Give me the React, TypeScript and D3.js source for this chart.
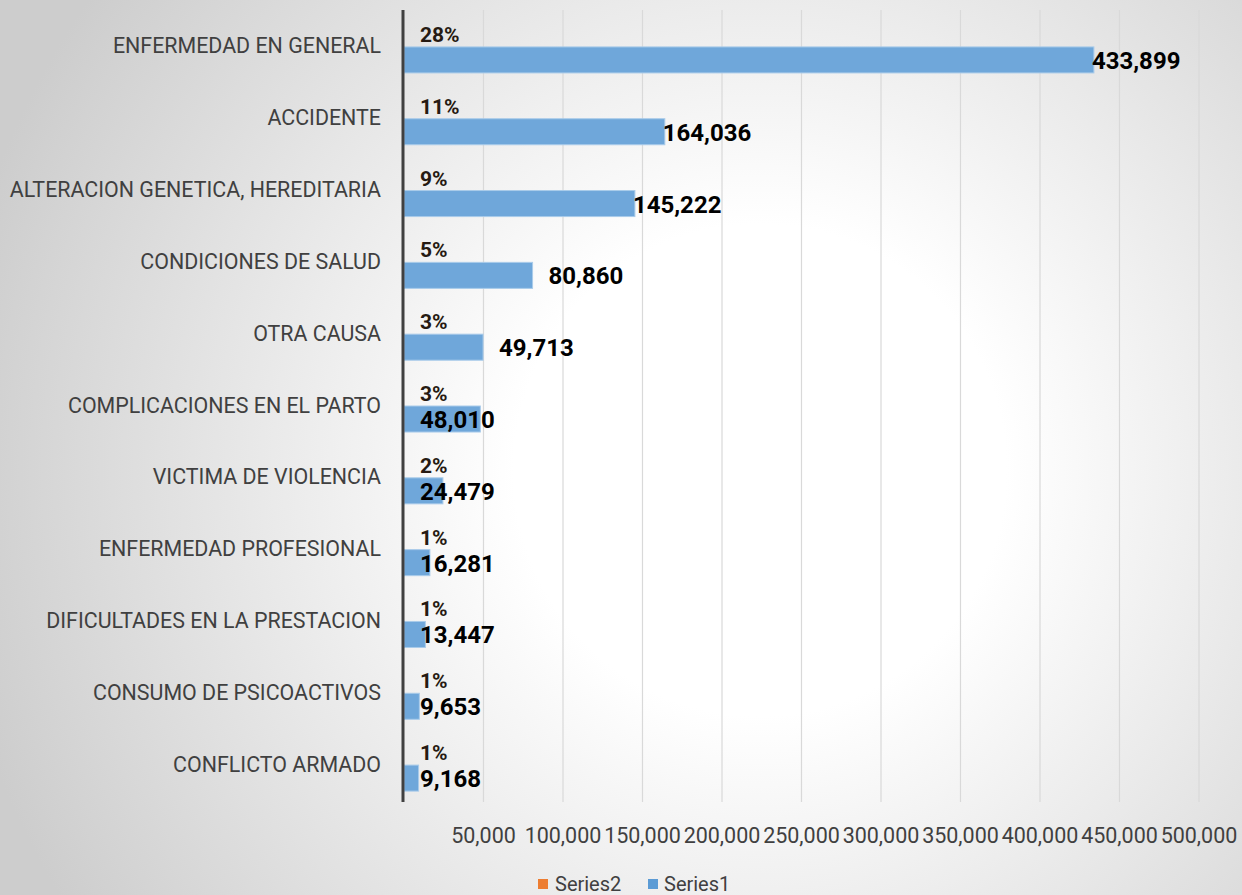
import React from 'react';
import * as d3 from 'd3';

const categories = [
  'ENFERMEDAD EN GENERAL',
  'ACCIDENTE',
  'ALTERACION GENETICA, HEREDITARIA',
  'CONDICIONES DE SALUD',
  'OTRA CAUSA',
  'COMPLICACIONES EN EL PARTO',
  'VICTIMA DE VIOLENCIA',
  'ENFERMEDAD PROFESIONAL',
  'DIFICULTADES EN LA PRESTACION',
  'CONSUMO DE PSICOACTIVOS',
  'CONFLICTO ARMADO',
];
const series1 = [433899, 164036, 145222, 80860, 49713, 48010, 24479, 16281, 13447, 9653, 9168];
const series2 = [0, 0, 0, 0, 0, 0, 0, 0, 0, 0, 0];
const series2Labels = ['28%', '11%', '9%', '5%', '3%', '3%', '2%', '1%', '1%', '1%', '1%'];
const xTicks = [50000, 100000, 150000, 200000, 250000, 300000, 350000, 400000, 450000, 500000];
const seriesNames = ['Series2', 'Series1'];

// where each value label sits (manually moved labels in the original)
const labelPlacement = ['end', 'end', 'end', 'after', 'after', 'base', 'base', 'base', 'base', 'base', 'base'];

const W = 1242;
const H = 895;
const FONT = 'Roboto, "Open Sans", sans-serif';
const BLUE = '#6fa7da';
const ORANGE = '#ed7d31';

export default function App() {
  const x = d3.scaleLinear().domain([0, 500000]).range([404, 1199]);
  const y = d3.scaleBand<string>().domain(categories).range([11, 801]);
  const inner = d3.scaleBand<string>().domain(seriesNames).range([0, y.bandwidth()])
    .paddingInner(0).paddingOuter(0.38);
  const fmt = d3.format(',');

  const labelX = (v: number, i: number) => {
    const p = labelPlacement[i];
    if (p === 'end') return x(v) - 2;
    if (p === 'after') return x(v) + 16;
    return x(0) + 16;
  };

  return (
    <>
      <style>{`body{margin:0}`}</style>
      <svg width={W} height={H} style={{ display: 'block' }} fontFamily={FONT}>
        <defs>
          <radialGradient id="bg" gradientUnits="userSpaceOnUse" cx={760} cy={470} r={820}>
            <stop offset="0" stopColor="#ffffff" />
            <stop offset="0.3" stopColor="#ffffff" />
            <stop offset="1" stopColor="#cdcdcd" />
          </radialGradient>
        </defs>
        <rect width={W} height={H} fill="url(#bg)" />

        {/* gridlines */}
        {xTicks.map(t => (
          <line key={t} x1={x(t)} x2={x(t)} y1={10} y2={802} stroke="#d9d9d9" strokeWidth={1.2} />
        ))}

        {/* bars */}
        {series1.map((v, i) => (
          <rect key={categories[i]}
            x={x(0)} y={(y(categories[i]) as number) + (inner('Series1') as number)}
            width={x(v) - x(0)} height={inner.bandwidth()}
            fill={BLUE} stroke="#a9cbea" strokeWidth={1} />
        ))}
        {series2.map((v, i) => (
          <rect key={'s2' + i}
            x={x(0)} y={(y(categories[i]) as number) + (inner('Series2') as number)}
            width={x(v) - x(0)} height={inner.bandwidth()} fill={ORANGE} />
        ))}

        {/* axis line */}
        <line x1={403} x2={403} y1={10} y2={802} stroke="#404040" strokeWidth={3} />

        {/* category labels */}
        {categories.map(c => (
          <text key={c} x={381} y={(y(c) as number) + y.bandwidth() / 2 - 1}
            textAnchor="end" dominantBaseline="central" fontSize={21.4} fill="#404040">{c}</text>
        ))}

        {/* percent labels */}
        {series2Labels.map((l, i) => (
          <text key={'p' + i} x={x(series2[i]) + 16}
            y={(y(categories[i]) as number) + (inner('Series2') as number) + inner.bandwidth() / 2 + 1}
            dominantBaseline="central" fontSize={21} fontWeight="bold" fill="#261a12">{l}</text>
        ))}

        {/* value labels */}
        {series1.map((v, i) => (
          <text key={'v' + i} x={labelX(v, i)}
            y={(y(categories[i]) as number) + (inner('Series1') as number) + inner.bandwidth() / 2 + 1}
            dominantBaseline="central" fontSize={24} fontWeight="bold" fill="#000000">{fmt(v)}</text>
        ))}

        {/* tick labels */}
        {xTicks.map(t => (
          <text key={'t' + t} x={x(t)} y={835} textAnchor="middle" dominantBaseline="central"
            fontSize={21.5} fill="#404040">{fmt(t)}</text>
        ))}

        {/* legend */}
        <rect x={538} y={879} width={10} height={10} fill={ORANGE} />
        <text x={555} y={884} dominantBaseline="central" fontSize={20} fill="#404040">Series2</text>
        <rect x={648} y={879} width={10} height={10} fill="#5b9bd5" />
        <text x={664} y={884} dominantBaseline="central" fontSize={20} fill="#404040">Series1</text>
      </svg>
    </>
  );
}
